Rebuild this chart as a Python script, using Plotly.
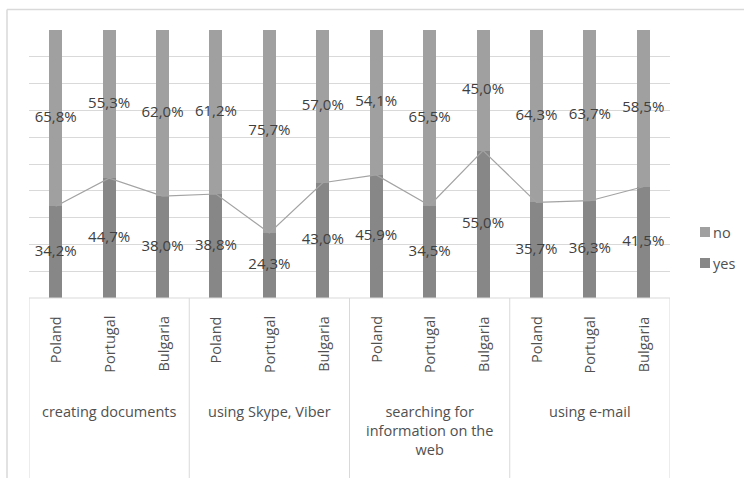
import plotly.graph_objects as go

# Survey data: share of respondents (%) per activity and country
activities = ["creating documents", "using Skype, Viber",
              "searching for<br>information on the<br>web", "using e-mail"]
countries = ["Poland", "Portugal", "Bulgaria"]
yes = [34.2, 44.7, 38.0, 38.8, 24.3, 43.0, 45.9, 34.5, 55.0, 35.7, 36.3, 41.5]
no = [65.8, 55.3, 62.0, 61.2, 75.7, 57.0, 54.1, 65.5, 45.0, 64.3, 63.7, 58.5]

W, H = 744, 478
L, R, T, B = 29, 670, 30, 298  # plot area in pixels
FONT = "Open Sans"
C_NO, C_YES = "#a0a0a0", "#878787"
C_TXT, C_AX, C_GRID = "#404040", "#505050", "#d9d9d9"


def px_x(px):
    return (px - L) / (R - L)


def px_y(py):
    return (B - py) / (B - T)


n = len(countries)
idx = list(range(len(yes)))

fig = go.Figure()
fig.add_trace(go.Bar(x=idx, y=yes, name="yes", marker_color=C_YES,
                     marker_line_width=0, showlegend=False))
fig.add_trace(go.Bar(x=idx, y=no, name="no", marker_color=C_NO,
                     marker_line_width=0, showlegend=False))
fig.add_trace(go.Scatter(x=idx, y=yes, mode="lines",
                         line=dict(color="#a3a3a3", width=1.2),
                         showlegend=False, hoverinfo="skip"))

fmt = lambda v: f"{v:.1f}".replace(".", ",") + "%"
fig.add_trace(go.Scatter(x=idx, y=[v / 2 for v in yes], mode="text",
                         text=[fmt(v) for v in yes],
                         textfont=dict(family=FONT, size=15, color=C_TXT),
                         showlegend=False, hoverinfo="skip", cliponaxis=False))
fig.add_trace(go.Scatter(x=idx, y=[y + v / 2 for y, v in zip(yes, no)],
                         mode="text", text=[fmt(v) for v in no],
                         textfont=dict(family=FONT, size=15, color=C_TXT),
                         showlegend=False, hoverinfo="skip", cliponaxis=False))

shapes = []
annotations = []

# outer chart border (left and top edges)
shapes.append(dict(type="line", xref="paper", yref="paper",
                   x0=px_x(7), x1=px_x(W + 5), y0=px_y(9.5), y1=px_y(9.5),
                   line=dict(color=C_GRID, width=1.5)))
shapes.append(dict(type="line", xref="paper", yref="paper",
                   x0=px_x(7), x1=px_x(7), y0=px_y(9.5), y1=px_y(H + 5),
                   line=dict(color=C_GRID, width=1.5)))

# category axis: baseline and group dividers
shapes.append(dict(type="line", xref="paper", yref="paper",
                   x0=0, x1=1, y0=0, y1=0, line=dict(color=C_GRID, width=1)))
for g in range(len(activities) + 1):
    xb = g * n - 0.5
    shapes.append(dict(type="line", xref="x", yref="paper",
                       x0=xb, x1=xb, y0=0, y1=px_y(H + 5),
                       line=dict(color=C_GRID, width=1)))

# inner labels (countries), rotated
for i in idx:
    annotations.append(dict(x=i, xref="x", y=px_y(314), yref="paper",
                            text=countries[i % n], textangle=-90,
                            showarrow=False, xanchor="center", yanchor="top",
                            font=dict(family=FONT, size=14.5, color=C_AX)))

# outer labels (activities)
for g, name in enumerate(activities):
    annotations.append(dict(x=g * n + (n - 1) / 2, xref="x", y=px_y(400),
                            yref="paper", text=name, showarrow=False,
                            xanchor="center", yanchor="top",
                            font=dict(family=FONT, size=14.5, color=C_AX)))

# legend
for label, color, cy in [("no", C_NO, 232), ("yes", C_YES, 263)]:
    shapes.append(dict(type="rect", xref="paper", yref="paper",
                       x0=px_x(700), x1=px_x(710), y0=px_y(cy - 5), y1=px_y(cy + 5),
                       fillcolor=color, line=dict(width=0)))
    annotations.append(dict(x=px_x(711), xref="paper", y=px_y(cy), yref="paper",
                            text=label, showarrow=False, xanchor="left",
                            yanchor="middle",
                            font=dict(family=FONT, size=14.5, color=C_AX)))

fig.update_layout(
    width=W, height=H,
    margin=dict(l=L, r=W - R, t=T, b=H - B),
    barmode="stack", bargap=0.757,
    plot_bgcolor="white", paper_bgcolor="white",
    showlegend=False,
    xaxis=dict(range=[-0.5, len(yes) - 0.5], showticklabels=False,
               showgrid=False, zeroline=False, fixedrange=True),
    yaxis=dict(range=[0, 100], dtick=10, showticklabels=False,
               showgrid=True, gridcolor=C_GRID, gridwidth=1,
               zeroline=False, fixedrange=True),
    shapes=shapes, annotations=annotations,
)

fig.write_html("out.html")
